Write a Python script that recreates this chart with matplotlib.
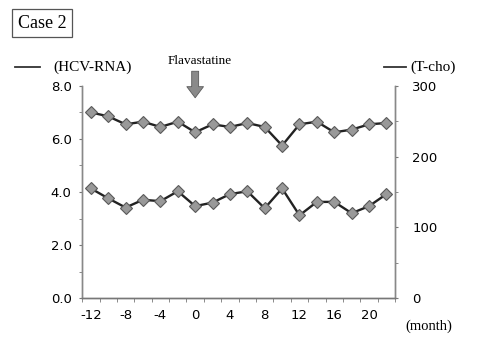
import numpy as np
import matplotlib
matplotlib.use("Agg")
import matplotlib.pyplot as plt

# months (every 2 months from -12 to 22)
months = [-12, -10, -8, -6, -4, -2, 0, 2, 4, 6, 8, 10, 12, 14, 16, 18, 20, 22]
# HCV-RNA (left axis)
hcv_rna = [7.0, 6.85, 6.55, 6.65, 6.45, 6.65, 6.25, 6.55, 6.45, 6.6,
           6.45, 5.75, 6.55, 6.65, 6.25, 6.35, 6.55, 6.6]
# T-cho (right axis)
t_cho = [155, 141, 128, 139, 137, 151, 130, 135, 147, 151,
         127, 155, 117, 136, 136, 120, 130, 147]

xtick_labels = [-12, -8, -4, 0, 4, 8, 12, 16, 20]

serif = "Liberation Serif"
sans = "DejaVu Sans"

fig = plt.figure(figsize=(4.89, 3.38), dpi=100)
ax = fig.add_axes([0.168, 0.118, 0.640, 0.628])
ax2 = ax.twinx()

line_kw = dict(color="#222222", lw=1.7, marker="D", markersize=6,
               markerfacecolor="#999999", markeredgecolor="#5a5a5a", markeredgewidth=0.8)
ax.plot(months, hcv_rna, **line_kw)
ax2.plot(months, t_cho, **line_kw)

ax.set_xlim(-13, 23)
ax.set_ylim(0, 8)
ax2.set_ylim(0, 300)

ax.set_xticks(xtick_labels)
ax.set_xticklabels([str(v) for v in xtick_labels], fontsize=9.5, family=sans)
ax.set_xticks(np.arange(-13, 24, 2), minor=True)
ax.tick_params(axis="x", which="major", length=0, pad=8)
ax.tick_params(axis="x", which="minor", length=3, color="#777777", direction="out")

ax.set_yticks([0, 2, 4, 6, 8])
ax.set_yticklabels(["0.0", "2.0", "4.0", "6.0", "8.0"], fontsize=9.5, family=sans)
ax.set_yticks(np.arange(0, 9, 1), minor=True)
ax.tick_params(axis="y", which="both", length=2.5, color="#777777", pad=5)

ax2.set_yticks([0, 100, 200, 300])
ax2.set_yticklabels(["0", "100", "200", "300"], fontsize=9.5, family=sans)
ax2.set_yticks(np.arange(0, 301, 50), minor=True)
ax2.tick_params(axis="y", which="both", length=2.5, color="#777777", pad=10)

for a in (ax, ax2):
    a.spines["top"].set_visible(False)
    a.spines["left"].set_color("#888888")
    a.spines["right"].set_color("#888888")
    a.spines["bottom"].set_color("#777777")
    for s in a.spines.values():
        s.set_linewidth(1.0)
    a.patch.set_visible(False)

# Case label box
fig.text(42 / 489, 1 - 23 / 338, "Case 2", family=serif, fontsize=13, ha="center", va="center",
         bbox=dict(boxstyle="square,pad=0.3", fc="white", ec="#555555", lw=0.9))

# series labels
fig.add_artist(plt.Line2D([15 / 489, 40 / 489], [1 - 67 / 338] * 2, color="#333333", lw=1.3))
fig.text(53 / 489, 1 - 67 / 338, "(HCV-RNA)", family=serif, fontsize=11, va="center")
fig.add_artist(plt.Line2D([384 / 489, 406 / 489], [1 - 67 / 338] * 2, color="#333333", lw=1.3))
fig.text(410 / 489, 1 - 67 / 338, "(T-cho)", family=serif, fontsize=11, va="center")

# treatment marker
ax.annotate("", xy=(0, 7.55), xytext=(0, 8.55), annotation_clip=False,
            arrowprops=dict(arrowstyle="simple,head_width=1.2,head_length=0.8,tail_width=0.5",
                            fc="#8a8a8a", ec="#5a5a5a", lw=0.6, shrinkA=0, shrinkB=0))
fig.text(200 / 489, 1 - 61 / 338, "Flavastatine", family=serif, fontsize=9.5, ha="center", va="center")

fig.text(429 / 489, 1 - 326 / 338, "(month)", family=serif, fontsize=10.5, ha="center", va="center")

fig.savefig("out.png", dpi=100)
